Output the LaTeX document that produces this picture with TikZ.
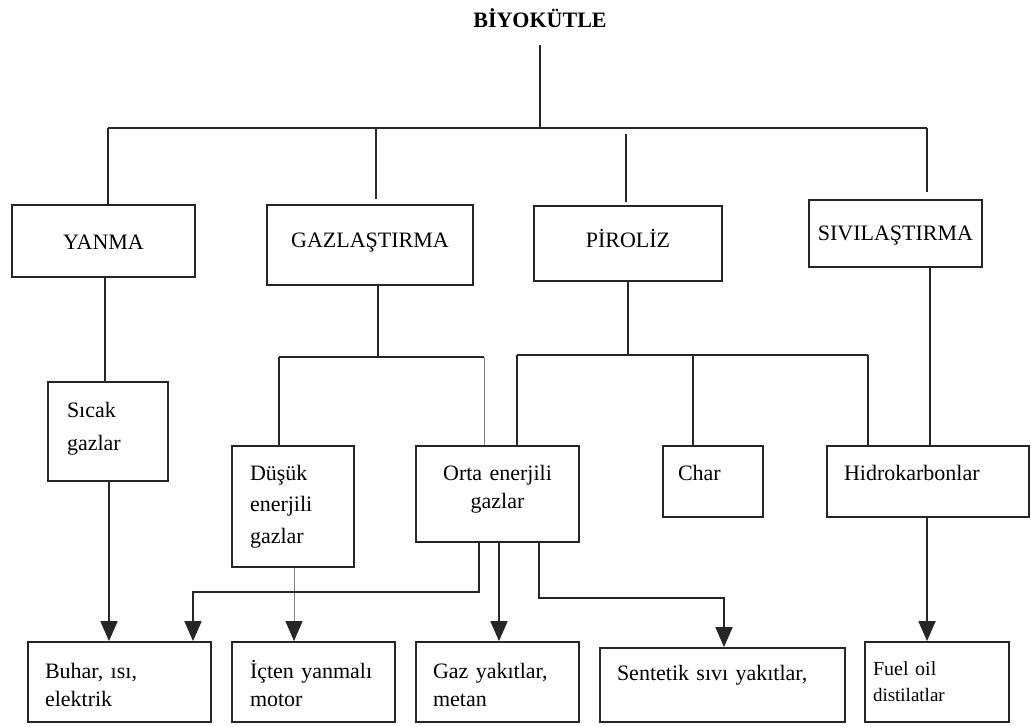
\documentclass[tikz,border=0pt]{standalone}
\usepackage{fontspec}
\setmainfont{Liberation Serif}
\usetikzlibrary{arrows.meta}
\begin{document}
\begin{tikzpicture}[x=1pt,y=-1pt,
  conn/.style={line width=1.8pt, draw=black!85},
  thinconn/.style={line width=1pt, draw=black!50},
  arr/.style={-{Triangle[length=20pt,width=17pt,color=black!85]}},
  box/.style={draw=black!85, line width=1.8pt, rectangle, inner ysep=0pt,
    font=\fontsize{22}{28.5}\selectfont},
  lbox/.style={box, align=left},
  cbox/.style={box, align=center}
]
\useasboundingbox (0,0) rectangle (1031,726);

% title
\node[font=\bfseries\fontsize{22}{26}\selectfont, inner sep=0pt, text height=15pt, text depth=0pt] (t) at (540,20) {BİYOKÜTLE};

% first level
\node[cbox, minimum width=183pt, minimum height=72pt, text height=16.6pt, text depth=0pt] (yanma) at (103.5,241) {YANMA};
\node[cbox, minimum width=206pt, minimum height=80pt, text height=4.6pt, text depth=0pt] (gazl) at (370,245) {GAZLAŞTIRMA};
\node[cbox, minimum width=188pt, minimum height=75pt, text height=7.6pt, text depth=0pt] (pir) at (628,243.5) {PİROLİZ};
\node[cbox, minimum width=173pt, minimum height=67pt, text height=13pt, text depth=0pt] (siv) at (895.5,233.5) {SIVILAŞTIRMA};

% second level
\node[lbox, font=\fontsize{22}{33}\selectfont, minimum width=120pt, minimum height=99pt, text width=82pt, inner xsep=19pt, text height=0pt, text depth=29pt] (sicak) at (108,431.5) {Sıcak\\gazlar};
\node[lbox, font=\fontsize{22}{31.5}\selectfont, minimum width=122pt, minimum height=121pt, text width=86pt, inner xsep=18pt, text height=0pt, text depth=53pt] (dusuk) at (293,506.5) {Düşük\\enerjili\\gazlar};
\node[cbox, minimum width=163pt, minimum height=96pt, text width=147pt, inner xsep=8pt, text height=0pt, text depth=28pt] (orta) at (497.5,494) {Orta enerjili\\gazlar};
\node[lbox, minimum width=100pt, minimum height=71pt, text width=70pt, inner xsep=15pt, text height=0pt, text depth=3pt] (char) at (713,481.5) {Char};
\node[lbox, minimum width=202pt, minimum height=71pt, text width=168pt, inner xsep=17pt, text height=0pt, text depth=3pt] (hidro) at (928,481.5) {Hidrokarbonlar};

% bottom level
\node[lbox, minimum width=183pt, minimum height=80pt, text width=149pt, inner xsep=17pt, text height=0pt, text depth=8pt] (buhar) at (119.5,682) {Buhar, ısı,\\elektrik};
\node[lbox, minimum width=163pt, minimum height=80pt, text width=127pt, inner xsep=18pt, text height=0pt, text depth=8pt] (icten) at (313.5,682) {İçten yanmalı\\motor};
\node[lbox, minimum width=163pt, minimum height=80pt, text width=129pt, inner xsep=17pt, text height=0pt, text depth=8pt] (gazy) at (497.5,682) {Gaz yakıtlar,\\metan};
\node[lbox, minimum width=245pt, minimum height=74pt, text width=211pt, inner xsep=17pt, text height=0pt, text depth=10pt] (sent) at (722.5,685) {Sentetik sıvı yakıtlar,};
\node[lbox, font=\fontsize{20}{26.7}\selectfont, minimum width=144pt, minimum height=80pt, text width=128pt, inner xsep=8pt, text height=0pt, text depth=14pt] (fuel) at (937,682) {Fuel oil\\{\fontsize{19}{24}\selectfont distilatlar}};

% junction coordinates
\coordinate (j0) at (540,128);
\coordinate (b1l) at (108,128);
\coordinate (b1g) at (376,128);
\coordinate (b1p) at (626,128);
\coordinate (b1r) at (927,128);
\coordinate (b2m) at (378,357);
\coordinate (b2l) at (279,357);
\coordinate (b2r) at (484,357);
\coordinate (b3m) at (628,355);
\coordinate (b3l) at (517,355);
\coordinate (b3c) at (693,355);
\coordinate (b3r) at (868,355);
\coordinate (xy) at (105,0);
\coordinate (xs) at (109,0);
\coordinate (xsv) at (930,0);
\coordinate (xh) at (927,0);
\coordinate (xd) at (294,0);
\coordinate (xg) at (499,0);
\coordinate (k1) at (479,592);
\coordinate (k2) at (193,592);
\coordinate (m1) at (539,598);
\coordinate (m2) at (724,598);

% title to bus
\draw[conn, shorten <=17.5pt] (t.south) -- (j0);
\draw[conn] (b1l) -- (b1r);
\draw[conn] (b1l) -- (b1l |- yanma.north);
\draw[conn, shorten >=5pt] (b1g) -- (b1g |- gazl.north);
\draw[conn, shorten <=6pt, shorten >=3pt] (b1p) -- (b1p |- pir.north);
\draw[conn, shorten >=7pt] (b1r) -- (b1r |- siv.north);

% YANMA branch
\draw[conn] (yanma.south -| xy) -- (sicak.north -| xy);
\draw[conn, arr] (sicak.south -| xs) -- (buhar.north -| xs);

% GAZLASTIRMA branch
\draw[conn] (gazl.south -| b2m) -- (b2m);
\draw[conn] (b2l) -- (b2r);
\draw[conn] (b2l) -- (b2l |- dusuk.north);
\draw[thinconn] (b2r) -- (b2r |- orta.north);

% PIROLIZ branch
\draw[conn] (pir.south -| b3m) -- (b3m);
\draw[conn] (b3l) -- (b3r);
\draw[conn] (b3l) -- (b3l |- orta.north);
\draw[conn] (b3c) -- (b3c |- char.north);
\draw[conn] (b3r) -- (b3r |- hidro.north);

% SIVILASTIRMA branch
\draw[conn] (siv.south -| xsv) -- (hidro.north -| xsv);
\draw[conn, arr] (hidro.south -| xh) -- (fuel.north -| xh);

% products
\draw[thinconn, arr] (dusuk.south -| xd) -- (icten.north -| xd);
\draw[conn, arr] (orta.south -| k1) -- (k1) -- (k2) -- (buhar.north -| k2);
\draw[conn, arr] (orta.south -| xg) -- (gazy.north -| xg);
\draw[conn, arr] (orta.south -| m1) -- (m1) -- (m2) -- (sent.north -| m2);
\end{tikzpicture}
\end{document}
